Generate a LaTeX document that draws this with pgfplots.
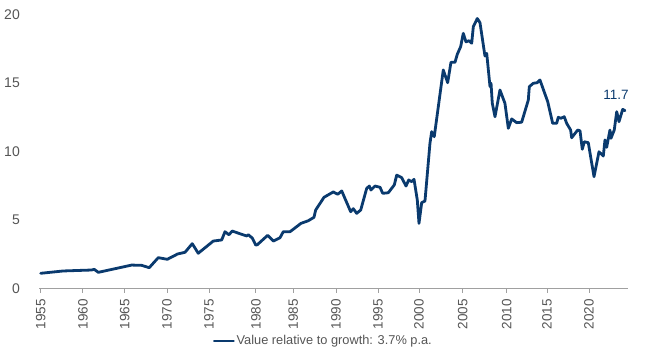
\documentclass[border=0pt]{standalone}
\usepackage{pgfplots}
\pgfplotsset{compat=1.18}
\usepackage{fontspec}
\setmainfont{Liberation Sans}
\definecolor{navy}{RGB}{10,58,110}
\definecolor{txtgray}{RGB}{85,85,85}
\definecolor{axgray}{RGB}{160,160,160}
\begin{document}
\begin{tikzpicture}
\begin{axis}[
  name=ax,
  scale only axis,
  width=589bp, height=274.4bp,
  xmin=1954.8, xmax=2024.63,
  ymin=0, ymax=20,
  clip=false,
  axis x line=bottom, axis y line=left,
  x axis line style={draw=axgray, line width=0.9bp, -},
  y axis line style={draw=none},
  xtick={1955,1960.01,1964.96,1969.97,1974.95,1980.52,1984.95,1990.01,1994.99,1999.85,2005.03,2010.25,2015.02,2020},
  xticklabels={1955,1960,1965,1970,1975,1980,1985,1990,1995,2000,2005,2010,2015,2020},
  xtick style={draw=axgray, line width=0.9bp},
  major tick length=4bp,
  tick align=outside,
  xticklabel style={yshift=-6bp, rotate=90, anchor=east, text=txtgray, font=\fontsize{13.5bp}{15bp}\selectfont, inner sep=0pt},
  ytick={0,5,10,15,20},
  yticklabels={0,5,10,15,20},
  ytick style={draw=none},
  yticklabel style={text=txtgray, font=\fontsize{14bp}{15bp}\selectfont, anchor=east, inner sep=0pt, xshift=-15bp},
  /pgf/number format/assume math mode=true,
  legend style={draw=none, fill=none, at={(0.483,-0.19)}, anchor=center,
    font=\fontsize{12.8bp}{15bp}\selectfont, text=txtgray},
  legend image code/.code={\draw[navy, line width=1.5bp] (0bp,0bp) -- (20bp,0bp);},
]
\addplot[navy, line width=2.8bp, line join=round, line cap=round] coordinates {
(1955.00,1.13) (1957.68,1.30) (1961.05,1.37) (1961.35,1.42) (1961.83,1.20)
(1965.79,1.73) (1966.97,1.71) (1967.87,1.54) (1968.94,2.27) (1970.01,2.15)
(1971.24,2.54) (1972.11,2.66) (1972.97,3.29) (1973.68,2.59) (1975.46,3.48)
(1976.46,3.56) (1976.85,4.16) (1977.32,3.94) (1977.71,4.21) (1978.83,3.97)
(1979.42,3.85) (1979.61,3.94) (1980.09,3.70) (1980.49,3.19) (1980.68,3.21)
(1981.91,3.90) (1982.58,3.48) (1983.37,3.72) (1983.76,4.16) (1984.56,4.16)
(1985.86,4.77) (1986.72,4.96) (1987.40,5.21) (1987.60,5.74) (1988.59,6.67)
(1989.69,7.06) (1990.21,6.89) (1990.69,7.13) (1991.75,5.62) (1992.06,5.84)
(1992.46,5.50) (1992.94,5.74) (1993.65,7.32) (1993.96,7.49) (1994.16,7.20)
(1994.63,7.49) (1995.23,7.40) (1995.55,6.96) (1996.21,7.00) (1996.92,7.57)
(1997.21,8.29) (1997.80,8.10) (1998.31,7.49) (1998.63,7.93) (1998.98,7.81)
(1999.26,7.98) (1999.65,6.47) (1999.85,4.77) (2000.17,6.28) (2000.56,6.40)
(2001.15,10.60) (2001.35,11.45) (2001.66,11.09) (2002.73,15.95) (2003.25,15.02)
(2003.64,16.51) (2004.12,16.51) (2004.39,17.09) (2004.79,17.65) (2005.10,18.62)
(2005.42,18.00) (2005.78,18.08) (2006.10,17.90) (2006.29,19.10) (2006.76,19.70)
(2007.08,19.40) (2007.67,16.97) (2007.88,17.16) (2008.27,14.73) (2008.39,14.98)
(2008.54,13.52) (2008.86,12.54) (2009.45,14.49) (2010.04,13.52) (2010.44,11.70)
(2010.84,12.38) (2011.43,12.11) (2012.02,12.14) (2012.81,13.76) (2012.93,14.73)
(2013.40,14.98) (2013.87,15.02) (2014.19,15.22) (2015.11,13.64) (2015.70,12.06)
(2016.17,12.06) (2016.36,12.50) (2016.68,12.43) (2017.07,12.54) (2017.36,12.06)
(2017.83,11.57) (2017.95,11.01) (2018.66,11.57) (2018.94,11.52) (2019.21,10.17)
(2019.45,10.72) (2019.92,10.65) (2020.60,8.17) (2021.19,9.99) (2021.70,9.68)
(2021.90,10.85) (2022.10,10.31) (2022.49,11.57) (2022.61,10.97) (2023.00,11.57)
(2023.29,12.91) (2023.56,12.18) (2024.00,13.08) (2024.27,12.98)
};
\addlegendentry{Value relative to growth: 3.7\% p.a.}
\node[text=navy, font=\fontsize{13.5bp}{15bp}\selectfont, inner sep=0pt] at (axis cs:2023.2,14.12) {11.7};
\end{axis}
\path ([xshift=-39bp,yshift=-67.2bp]ax.south west) rectangle ([xshift=22bp,yshift=14.4bp]ax.north east);
\end{tikzpicture}
\end{document}
